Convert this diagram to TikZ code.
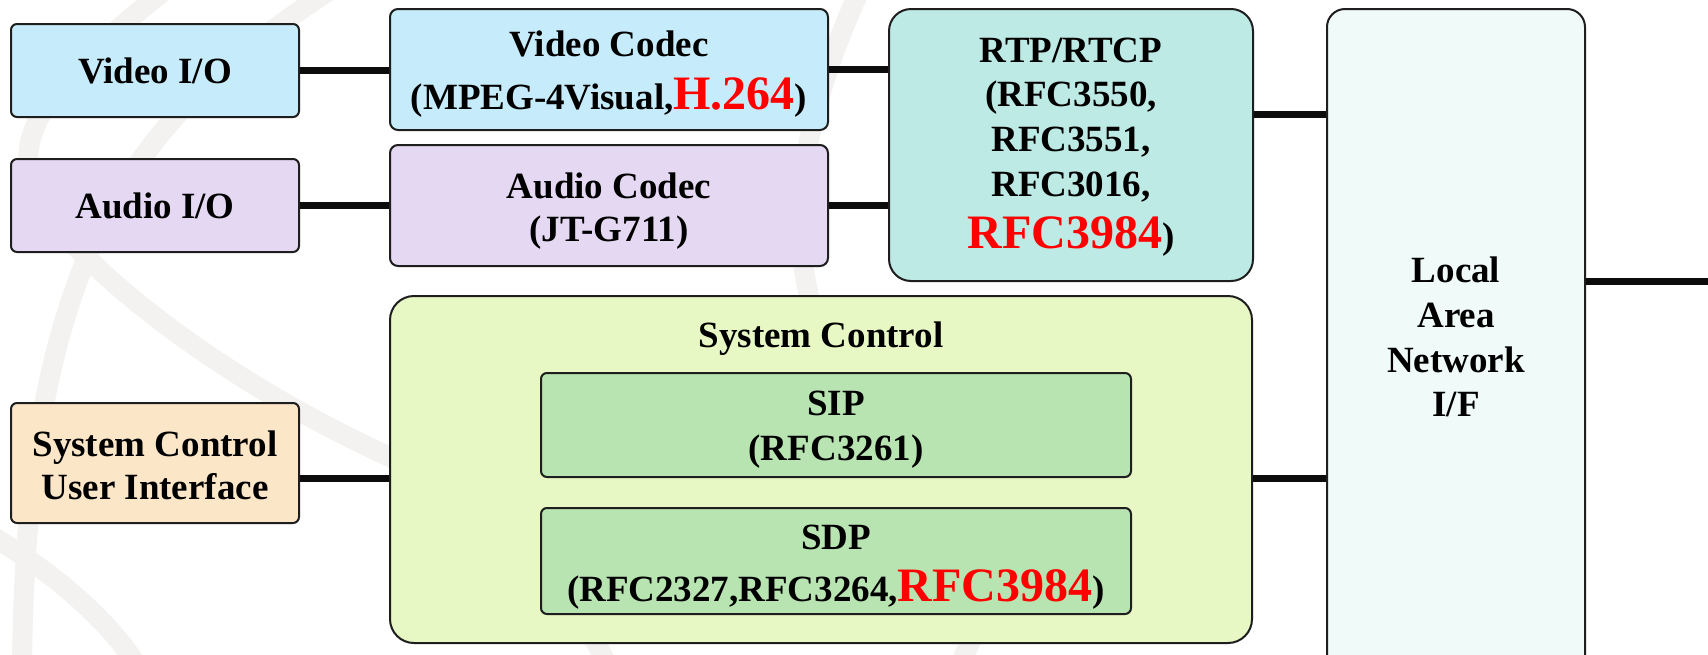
\documentclass[tikz,border=0pt]{standalone}
\usepackage{fontspec}
\setmainfont{Liberation Serif}[BoldFont={Liberation Serif Bold}]
\usepackage{xcolor}
\definecolor{vcol}{RGB}{198,236,251}
\definecolor{acol}{RGB}{228,216,242}
\definecolor{rtpc}{RGB}{189,234,228}
\definecolor{lanc}{RGB}{240,250,248}
\definecolor{scc}{RGB}{232,248,196}
\definecolor{sipc}{RGB}{184,228,178}
\definecolor{uic}{RGB}{252,230,200}
\definecolor{boxline}{RGB}{30,30,30}
\definecolor{linkc}{RGB}{12,12,12}
\definecolor{wmgray}{RGB}{243,242,240}
\newcommand\boxfont{\fontsize{18.5}{22.4}\selectfont\bfseries}
\newcommand\redpart[1]{{\fontsize{24}{24}\selectfont\color{red}#1}}
\begin{document}
\begin{tikzpicture}[x=0.5pt,y=-0.5pt,
  box/.style={draw=boxline, line width=1pt, rounded corners=3pt, align=center, inner sep=0pt, font=\boxfont},
  lbl/.style={align=center, inner sep=0pt, font=\boxfont},
  link/.style={draw=linkc, line width=3.5pt},
  wm/.style={draw=wmgray, line width=10pt}]
\fill[white] (0,0) rectangle (1708,654);
\useasboundingbox (0,0) rectangle (1708,654);

% faint globe strokes in the background
\draw[wm] (330,-10) .. controls (150,110) and (25,230) .. (22,670);
\draw[wm] (165,-10) .. controls (40,90) and (-10,150) .. (60,230) .. controls (150,330) and (300,420) .. (420,470);
\draw[wm] (-10,535) .. controls (50,570) and (110,620) .. (140,670);
\draw[wm] (860,-10) .. controls (800,120) and (790,220) .. (810,300);
\draw[wm] (560,600) .. controls (590,630) .. (610,670);
\draw[wm] (1000,600) .. controls (975,630) .. (958,670);

% media path
\node[box, fill=vcol, minimum width=144pt, minimum height=46.5pt] (vio) at (155,70.5) {Video I/O};
\node[box, rounded corners=4pt, fill=vcol, minimum width=219pt, minimum height=60.5pt] (vcodec) at (609,69.5) {};
\node[lbl] (vcodectext) at (609,74) {Video Codec\\[4pt](MPEG-4Visual,\redpart{H.264})};
\node[box, fill=acol, minimum width=144pt, minimum height=46.5pt] (aio) at (155,205.5) {Audio I/O};
\node[box, rounded corners=4pt, fill=acol, minimum width=219pt, minimum height=60.5pt] (acodec) at (609,205.5) {};
\node[lbl] (acodectext) at (609,211) {Audio Codec\\[-1pt](JT-G711)};
\node[box, rounded corners=11pt, fill=rtpc, minimum width=182pt, minimum height=136pt] (rtp) at (1071,145) {};
\node[lbl] (rtptext) at (1071,147) {RTP/RTCP\\(RFC3550,\\RFC3551,\\RFC3016,\\[3.6pt]\redpart{RFC3984})};

% network interface
\node[box, rounded corners=9pt, fill=lanc, minimum width=129pt, minimum height=345.5pt] (lan) at (1456,354.5) {};
\node[lbl] (lantext) at (1456,337) {Local\\Area\\Network\\I/F};

% control path
\node[box, fill=uic, minimum width=144pt, minimum height=60pt] (scui) at (155,463) {};
\node[lbl] (scuitext) at (155,465) {System Control\\[-1pt]User Interface};
\node[box, rounded corners=12pt, fill=scc, minimum width=431pt, minimum height=173.5pt] (sys) at (821,469.5) {};
\node[lbl] (systitle) at (821,338.5) {System Control};
\node[box, fill=sipc, minimum width=295pt, minimum height=52pt] (sip) at (836,425) {};
\node[lbl] (siptext) at (836,429.5) {SIP\\(RFC3261)};
\node[box, fill=sipc, minimum width=295pt, minimum height=53pt] (sdp) at (836,561) {};
\node[lbl] (sdptext) at (836,567.5) {SDP\\[3.6pt](RFC2327,RFC3264,\redpart{RFC3984})};

% connectors
\coordinate (yrl) at (0,114);
\coordinate (ysc) at (0,478);
\coordinate (rightend) at (1708,281);
\draw[link] (vio.east) -- (vio.east -| vcodec.west);
\draw[link] (aio.east) -- (aio.east -| acodec.west);
\draw[link] (vcodec.east) -- (vcodec.east -| rtp.west);
\draw[link] (acodec.east) -- (acodec.east -| rtp.west);
\draw[link] (rtp.east |- yrl) -- (lan.west |- yrl);
\draw[link] (lan.east |- rightend) -- (rightend);
\draw[link] (scui.east |- ysc) -- (sys.west |- ysc);
\draw[link] (sys.east |- ysc) -- (lan.west |- ysc);
\end{tikzpicture}
\end{document}
